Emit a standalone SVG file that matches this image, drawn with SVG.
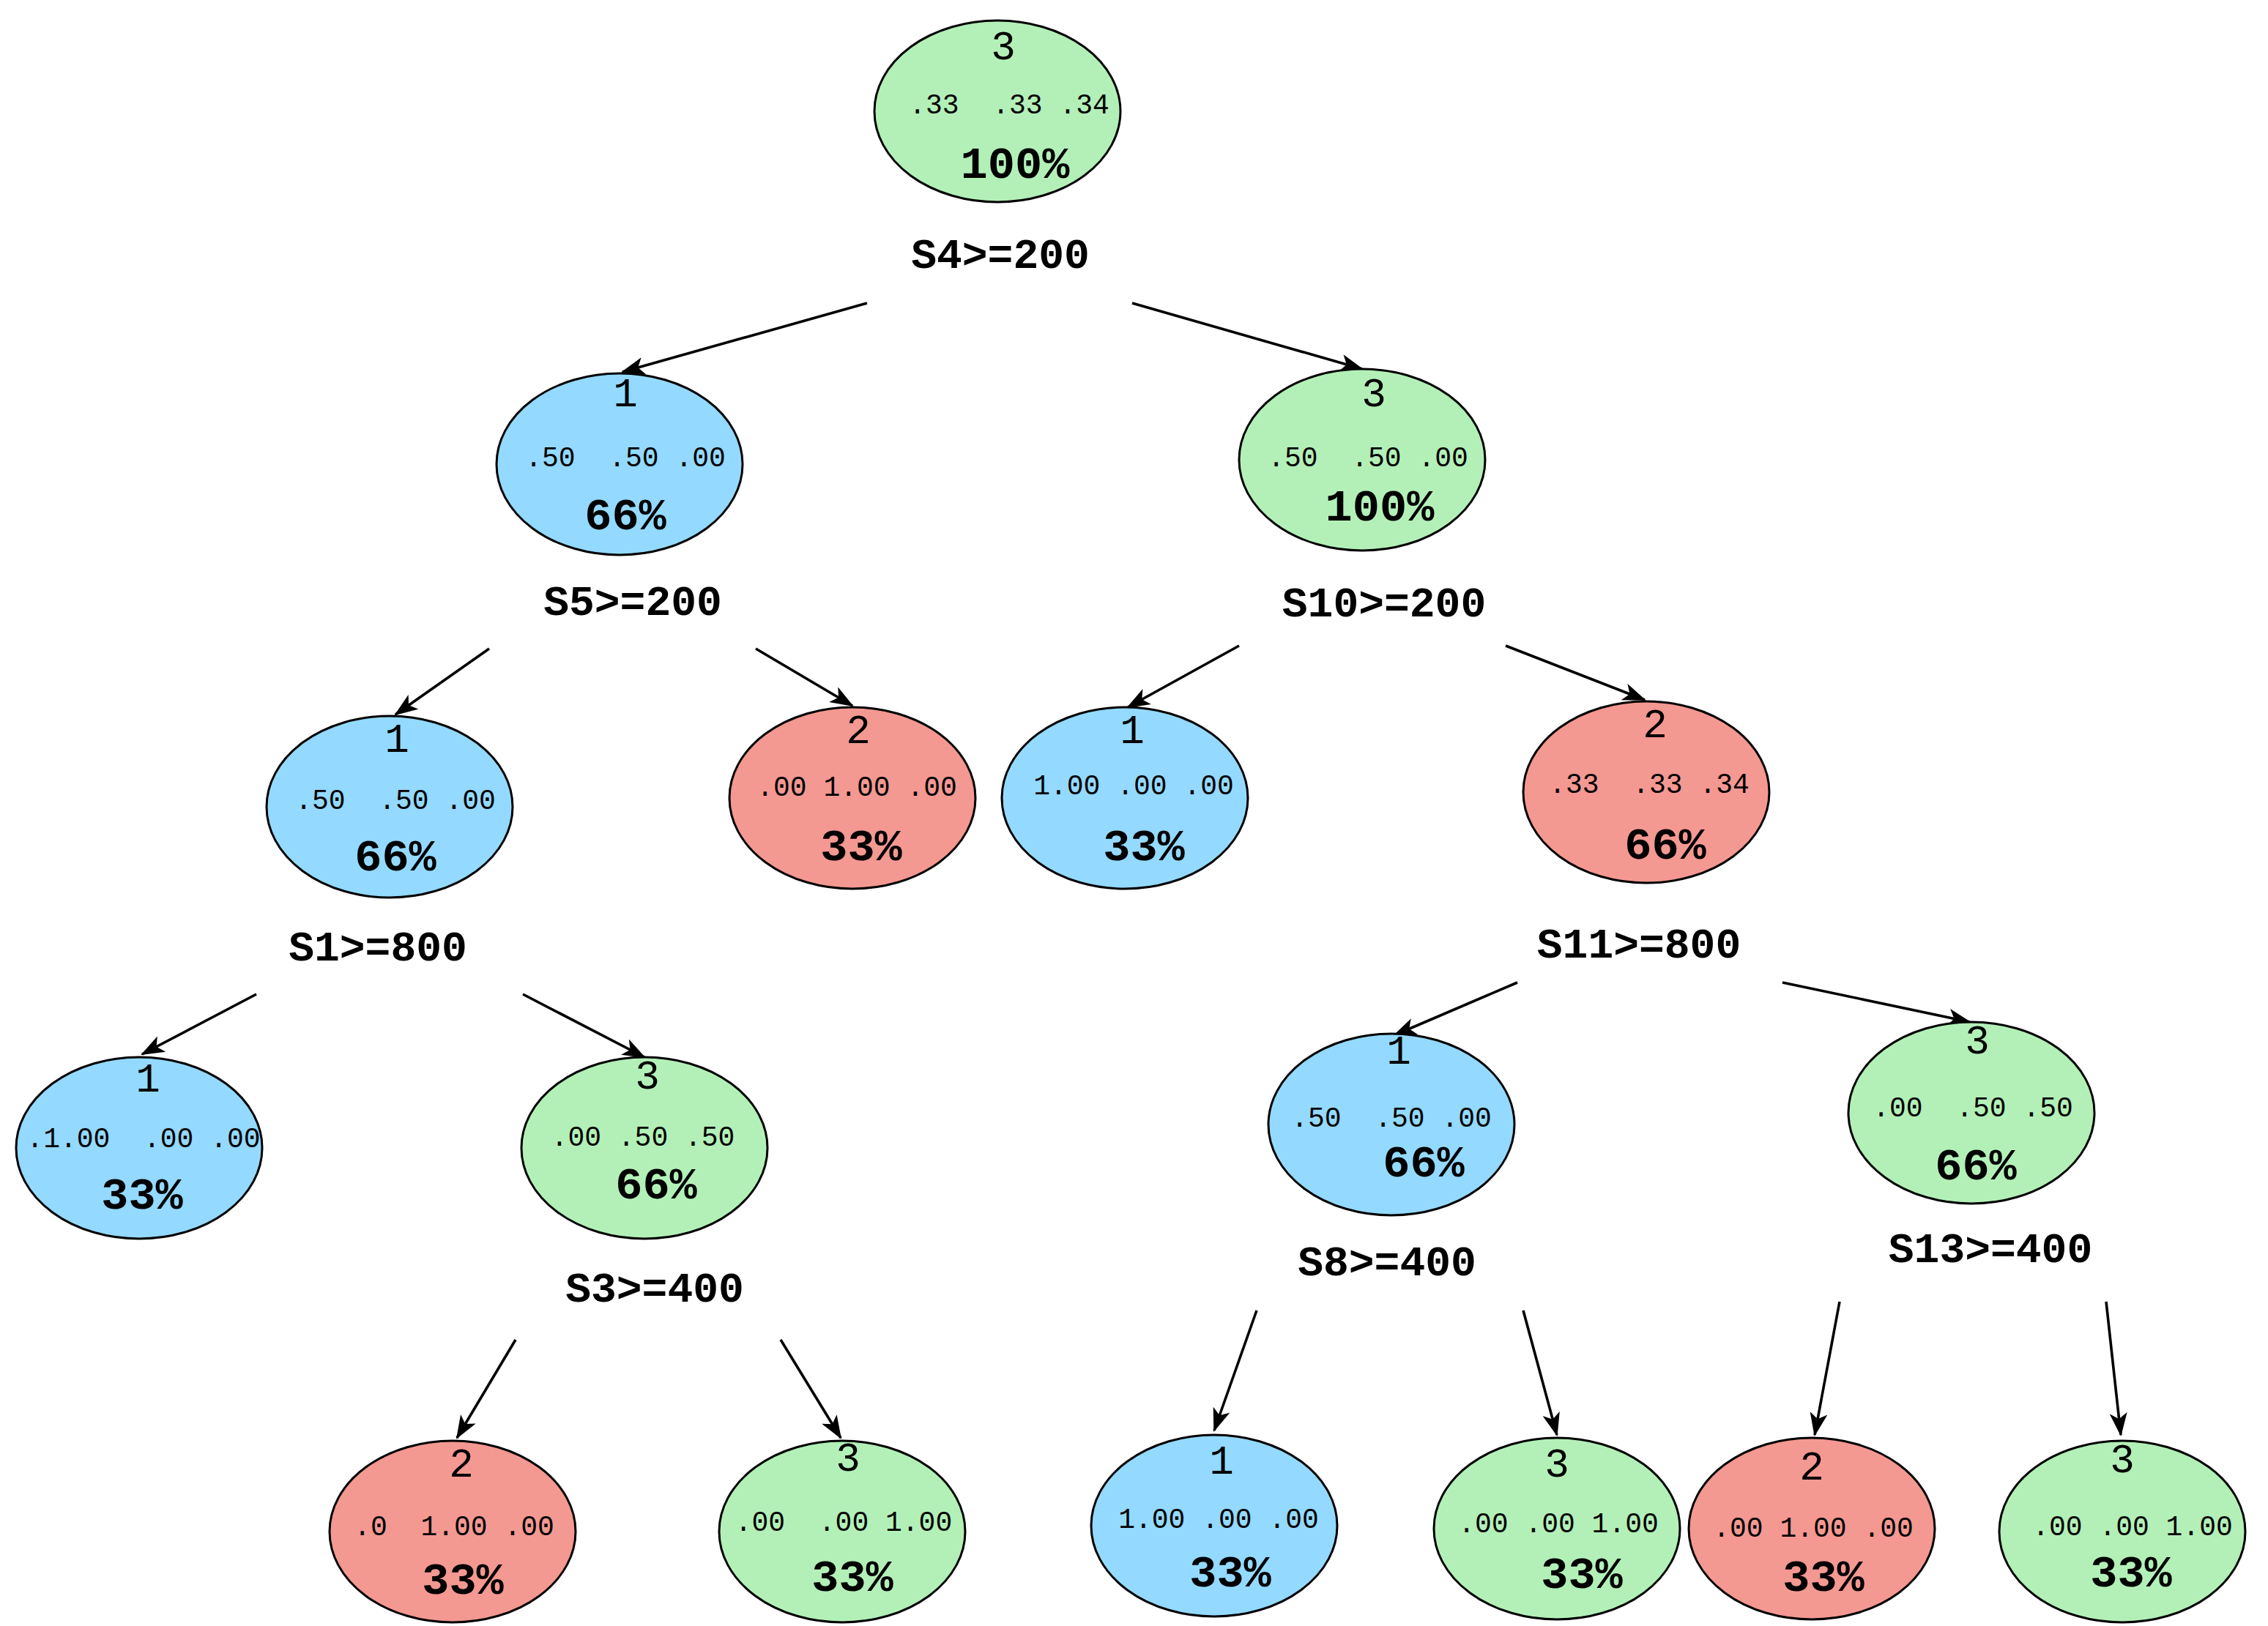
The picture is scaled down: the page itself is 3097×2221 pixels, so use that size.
<svg xmlns="http://www.w3.org/2000/svg" width="3097" height="2221" viewBox="0 0 3097 2221">
<style>
.n{stroke:#000;stroke-width:1.5}
.g{fill:#b3f0b8}.b{fill:#94d9ff}.r{fill:#f49892}
text{font-family:"Liberation Mono","DejaVu Sans Mono",monospace;fill:#000;text-anchor:middle;dominant-baseline:central}
.c{font-size:28px}.p{font-size:19px}.q{font-size:31px;font-weight:bold}.l{font-size:29px;font-weight:bold}
.e{stroke:#000;stroke-width:1.8;fill:none;marker-end:url(#a)}
</style>
<defs><marker id="a" markerUnits="userSpaceOnUse" markerWidth="16" markerHeight="12" refX="15" refY="6" orient="auto"><path d="M0,0 L16,6 L0,12 L4,6 Z" fill="#000"/></marker></defs>
<rect width="3097" height="2221" fill="#fff"/>
<g transform="scale(2)">
<g id="connectors">
<line class="e" x1="592" y1="207" x2="425" y2="254"/>
<line class="e" x1="773" y1="207" x2="930" y2="252"/>
<line class="e" x1="334" y1="443" x2="270" y2="488"/>
<line class="e" x1="516" y1="443" x2="582" y2="482"/>
<line class="e" x1="846" y1="441" x2="770" y2="483"/>
<line class="e" x1="1028" y1="441" x2="1123" y2="478"/>
<line class="e" x1="175" y1="679" x2="97" y2="720"/>
<line class="e" x1="357" y1="679" x2="440" y2="722"/>
<line class="e" x1="1036" y1="671" x2="952" y2="707"/>
<line class="e" x1="1217" y1="671" x2="1345" y2="698"/>
<line class="e" x1="352" y1="915" x2="312" y2="982"/>
<line class="e" x1="533" y1="915" x2="574" y2="982"/>
<line class="e" x1="858" y1="895" x2="829" y2="977"/>
<line class="e" x1="1040" y1="895" x2="1063" y2="980"/>
<line class="e" x1="1256" y1="889" x2="1239" y2="980"/>
<line class="e" x1="1438" y1="889" x2="1448" y2="980"/>
</g>
<g id="n1"><ellipse class="n g" cx="681" cy="76" rx="84" ry="62"/><text class="c" x="685" y="33">3</text><text class="p" x="689" y="72" xml:space="preserve">.33  .33 .34</text><text class="q" x="693" y="113">100%</text><text class="l" x="683" y="175">S4&gt;=200</text></g>
<g id="n2"><ellipse class="n b" cx="423" cy="317" rx="84" ry="62"/><text class="c" x="427" y="270">1</text><text class="p" x="427" y="313" xml:space="preserve">.50  .50 .00</text><text class="q" x="427" y="353">66%</text><text class="l" x="432" y="412">S5&gt;=200</text></g>
<g id="n3"><ellipse class="n g" cx="930" cy="314" rx="84" ry="62"/><text class="c" x="938" y="270">3</text><text class="p" x="934" y="313" xml:space="preserve">.50  .50 .00</text><text class="q" x="942" y="347">100%</text><text class="l" x="945" y="413">S10&gt;=200</text></g>
<g id="n4"><ellipse class="n b" cx="266" cy="551" rx="84" ry="62"/><text class="c" x="271" y="506">1</text><text class="p" x="270" y="547" xml:space="preserve">.50  .50 .00</text><text class="q" x="270" y="586">66%</text><text class="l" x="258" y="648">S1&gt;=800</text></g>
<g id="n5"><ellipse class="n r" cx="582" cy="545" rx="84" ry="62"/><text class="c" x="586" y="500">2</text><text class="p" x="585" y="538" xml:space="preserve">.00 1.00 .00</text><text class="q" x="588" y="579">33%</text></g>
<g id="n6"><ellipse class="n b" cx="768" cy="545" rx="84" ry="62"/><text class="c" x="773" y="500">1</text><text class="p" x="774" y="537" xml:space="preserve">1.00 .00 .00</text><text class="q" x="781" y="579">33%</text></g>
<g id="n7"><ellipse class="n r" cx="1124" cy="541" rx="84" ry="62"/><text class="c" x="1130" y="496">2</text><text class="p" x="1126" y="536" xml:space="preserve">.33  .33 .34</text><text class="q" x="1137" y="578">66%</text><text class="l" x="1119" y="646">S11&gt;=800</text></g>
<g id="n8"><ellipse class="n b" cx="95" cy="784" rx="84" ry="62"/><text class="c" x="101" y="738">1</text><text class="p" x="98" y="778" xml:space="preserve">.1.00  .00 .00</text><text class="q" x="97" y="817">33%</text></g>
<g id="n9"><ellipse class="n g" cx="440" cy="784" rx="84" ry="62"/><text class="c" x="442" y="736">3</text><text class="p" x="439" y="777" xml:space="preserve">.00 .50 .50</text><text class="q" x="448" y="810">66%</text><text class="l" x="447" y="881">S3&gt;=400</text></g>
<g id="n10"><ellipse class="n b" cx="950" cy="768" rx="84" ry="62"/><text class="c" x="955" y="719">1</text><text class="p" x="950" y="764" xml:space="preserve">.50  .50 .00</text><text class="q" x="972" y="795">66%</text><text class="l" x="947" y="863">S8&gt;=400</text></g>
<g id="n11"><ellipse class="n g" cx="1346" cy="760" rx="84" ry="62"/><text class="c" x="1350" y="712">3</text><text class="p" x="1347" y="757" xml:space="preserve">.00  .50 .50</text><text class="q" x="1349" y="797">66%</text><text class="l" x="1359" y="854">S13&gt;=400</text></g>
<g id="n12"><ellipse class="n r" cx="309" cy="1046" rx="84" ry="62"/><text class="c" x="315" y="1001">2</text><text class="p" x="310" y="1043" xml:space="preserve">.0  1.00 .00</text><text class="q" x="316" y="1080">33%</text></g>
<g id="n13"><ellipse class="n g" cx="575" cy="1046" rx="84" ry="62"/><text class="c" x="579" y="997">3</text><text class="p" x="576" y="1040" xml:space="preserve">.00  .00 1.00</text><text class="q" x="582" y="1078">33%</text></g>
<g id="n14"><ellipse class="n b" cx="829" cy="1042" rx="84" ry="62"/><text class="c" x="834" y="999">1</text><text class="p" x="832" y="1038" xml:space="preserve">1.00 .00 .00</text><text class="q" x="840" y="1075">33%</text></g>
<g id="n15"><ellipse class="n g" cx="1063" cy="1044" rx="84" ry="62"/><text class="c" x="1063" y="1001">3</text><text class="p" x="1064" y="1041" xml:space="preserve">.00 .00 1.00</text><text class="q" x="1080" y="1076">33%</text></g>
<g id="n16"><ellipse class="n r" cx="1237" cy="1044" rx="84" ry="62"/><text class="c" x="1237" y="1003">2</text><text class="p" x="1238" y="1044" xml:space="preserve">.00 1.00 .00</text><text class="q" x="1245" y="1078">33%</text></g>
<g id="n17"><ellipse class="n g" cx="1449" cy="1046" rx="84" ry="62"/><text class="c" x="1449" y="998">3</text><text class="p" x="1456" y="1043" xml:space="preserve">.00 .00 1.00</text><text class="q" x="1455" y="1075">33%</text></g>
</g>
</svg>
